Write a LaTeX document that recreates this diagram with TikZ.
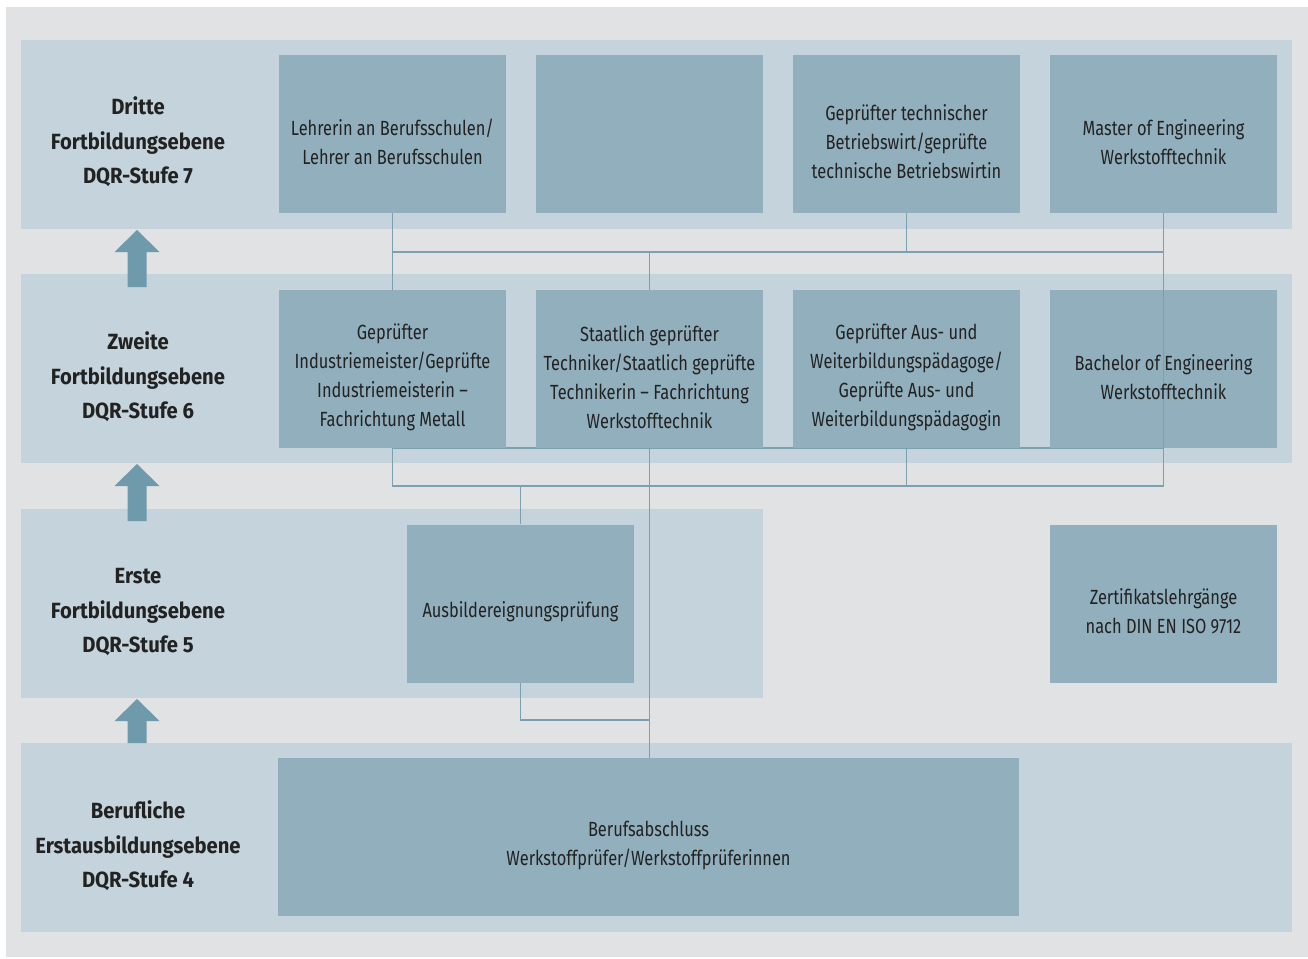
\documentclass[tikz,border=0pt]{standalone}
\usepackage{fontspec}
\setmainfont{Fira Sans}[FakeStretch=0.8]
\newfontfamily\lvlfont{Fira Sans}[FakeStretch=0.92]
\definecolor{bgc}{HTML}{E0E2E4}
\definecolor{bandc}{HTML}{C4D3DC}
\definecolor{boxc}{HTML}{92AFBD}
\definecolor{linec}{HTML}{7CA0B0}
\definecolor{arrc}{HTML}{6F9AAC}
\definecolor{txtc}{HTML}{222222}
\tikzset{
  band/.style={fill=bandc, draw=none},
  qbox/.style={fill=boxc, draw=none, minimum width=227pt, minimum height=158pt, inner sep=0pt},
  btxt/.style={align=center, text=txtc, inner sep=0pt, font=\fontsize{20.5}{29}\selectfont},
  lvl/.style={align=center, text=txtc, font=\lvlfont\bfseries\fontsize{22}{34.5}\selectfont, inner sep=0pt},
  conn/.style={draw=linec, line width=1.1pt},
  uparr/.style={fill=arrc, draw=none}
}
\begin{document}
\begin{tikzpicture}[x=1pt,y=-1pt]
\useasboundingbox (0,0) rectangle (1308,958);
\fill[white] (0,0) rectangle (1308,958);
\fill[bgc] (6,7) rectangle (1308,957);
% bands
\fill[band] (21,40) rectangle (1292,229);
\fill[band] (21,274) rectangle (1292,463);
\fill[band] (21,509) rectangle (763,698);
\fill[band] (21,743) rectangle (1292,932);
% arrows
\fill[uparr] (137,230) -- (159.5,252) -- (146.5,252) -- (146.5,287) -- (127.5,287) -- (127.5,252) -- (114.5,252) -- cycle;
\fill[uparr] (137,464) -- (159.5,486) -- (146.5,486) -- (146.5,521) -- (127.5,521) -- (127.5,486) -- (114.5,486) -- cycle;
\fill[uparr] (137,699) -- (159.5,721) -- (146.5,721) -- (146.5,743) -- (127.5,743) -- (127.5,721) -- (114.5,721) -- cycle;
% level labels
\node[lvl] (t7) at (138,142) {Dritte\\Fortbildungsebene\\DQR-Stufe 7};
\node[lvl] (t6) at (138,377) {Zweite\\Fortbildungsebene\\DQR-Stufe 6};
\node[lvl] (t5) at (138,612) {Erste\\Fortbildungsebene\\DQR-Stufe 5};
\node[lvl] (t4) at (138,846) {Berufliche\\Erstausbildungsebene\\DQR-Stufe 4};
% junction coordinates
\coordinate (h7) at (392,252);
\coordinate (h5) at (392,486);
% row 1 boxes
\node[qbox] (l7a) at (392.5,134) {};
\node[qbox] (l7b) at (649.5,134) {};
\node[qbox] (l7c) at (906.5,134) {};
\node[qbox] (l7d) at (1163.5,134) {};
% connectors behind row-2 boxes
\draw[conn] (l7a.south) -- (l7a.south |- h7) -- (l7d.south |- h7);
\draw[conn] (l7c.south) -- (l7c.south |- h7);
\draw[conn] (l7a.south |- h7) -- (l7a.south |- 0,290);
\draw[conn] (l7b.south |- h7) -- (l7b.south |- 0,290);
\draw[conn] (392.5,448) -- (1163.5,448);
\draw[conn] (392.5,448) -- (392.5,486) -- (1163.5,486);
\draw[conn] (906.5,448) -- (906.5,486);
\draw[conn] (649.5,448) -- (649.5,758);
\draw[conn] (520.5,486) -- (520.5,524);
\draw[conn] (520.5,683) -- (520.5,720) -- (649.5,720);
% other boxes
\node[qbox] (l6a) at (392.5,369) {};
\node[qbox] (l6b) at (649.5,369) {};
\node[qbox] (l6c) at (906.5,369) {};
\node[qbox] (l6d) at (1163.5,369) {};
\node[qbox] (l5a) at (520.5,603.5) {};
\node[qbox] (l5z) at (1163.5,603.5) {};
\node[qbox, minimum width=741pt] (l4) at (648.5,837) {};
% connectors over boxes
\draw[conn] (l7d.south) -- (l7d.south |- h5);
\draw[conn, line width=0.6pt] (l6a.south) -- (l6d.south);
% box texts
\node[btxt] (x7a) at ([yshift=-8pt]l7a.center) {Lehrerin an Berufsschulen/\\Lehrer an Berufsschulen};
\node[btxt] (x7c) at ([yshift=-8pt]l7c.center) {Geprüfter technischer\\Betriebswirt/geprüfte\\technische Betriebswirtin};
\node[btxt] (x7d) at ([yshift=-8pt]l7d.center) {Master of Engineering\\Werkstofftechnik};
\node[btxt] (x6a) at ([yshift=-8pt]l6a.center) {Geprüfter\\Industriemeister/Geprüfte\\Industriemeisterin –\\Fachrichtung Metall};
\node[btxt] (x6b) at ([yshift=-8pt]l6b.center) {Staatlich geprüfter\\Techniker/Staatlich geprüfte\\Technikerin – Fachrichtung\\Werkstofftechnik};
\node[btxt] (x6c) at ([yshift=-8pt]l6c.center) {Geprüfter Aus- und\\Weiterbildungspädagoge/\\Geprüfte Aus- und\\Weiterbildungspädagogin};
\node[btxt] (x6d) at ([yshift=-8pt]l6d.center) {Bachelor of Engineering\\Werkstofftechnik};
\node[btxt] (x5a) at ([yshift=-8pt]l5a.center) {Ausbildereignungsprüfung};
\node[btxt] (x5z) at ([yshift=-8pt]l5z.center) {Zertifikatslehrgänge\\nach DIN EN ISO 9712};
\node[btxt] (x4) at ([yshift=-8pt]l4.center) {Berufsabschluss\\Werkstoffprüfer/Werkstoffprüferinnen};
\end{tikzpicture}
\end{document}
